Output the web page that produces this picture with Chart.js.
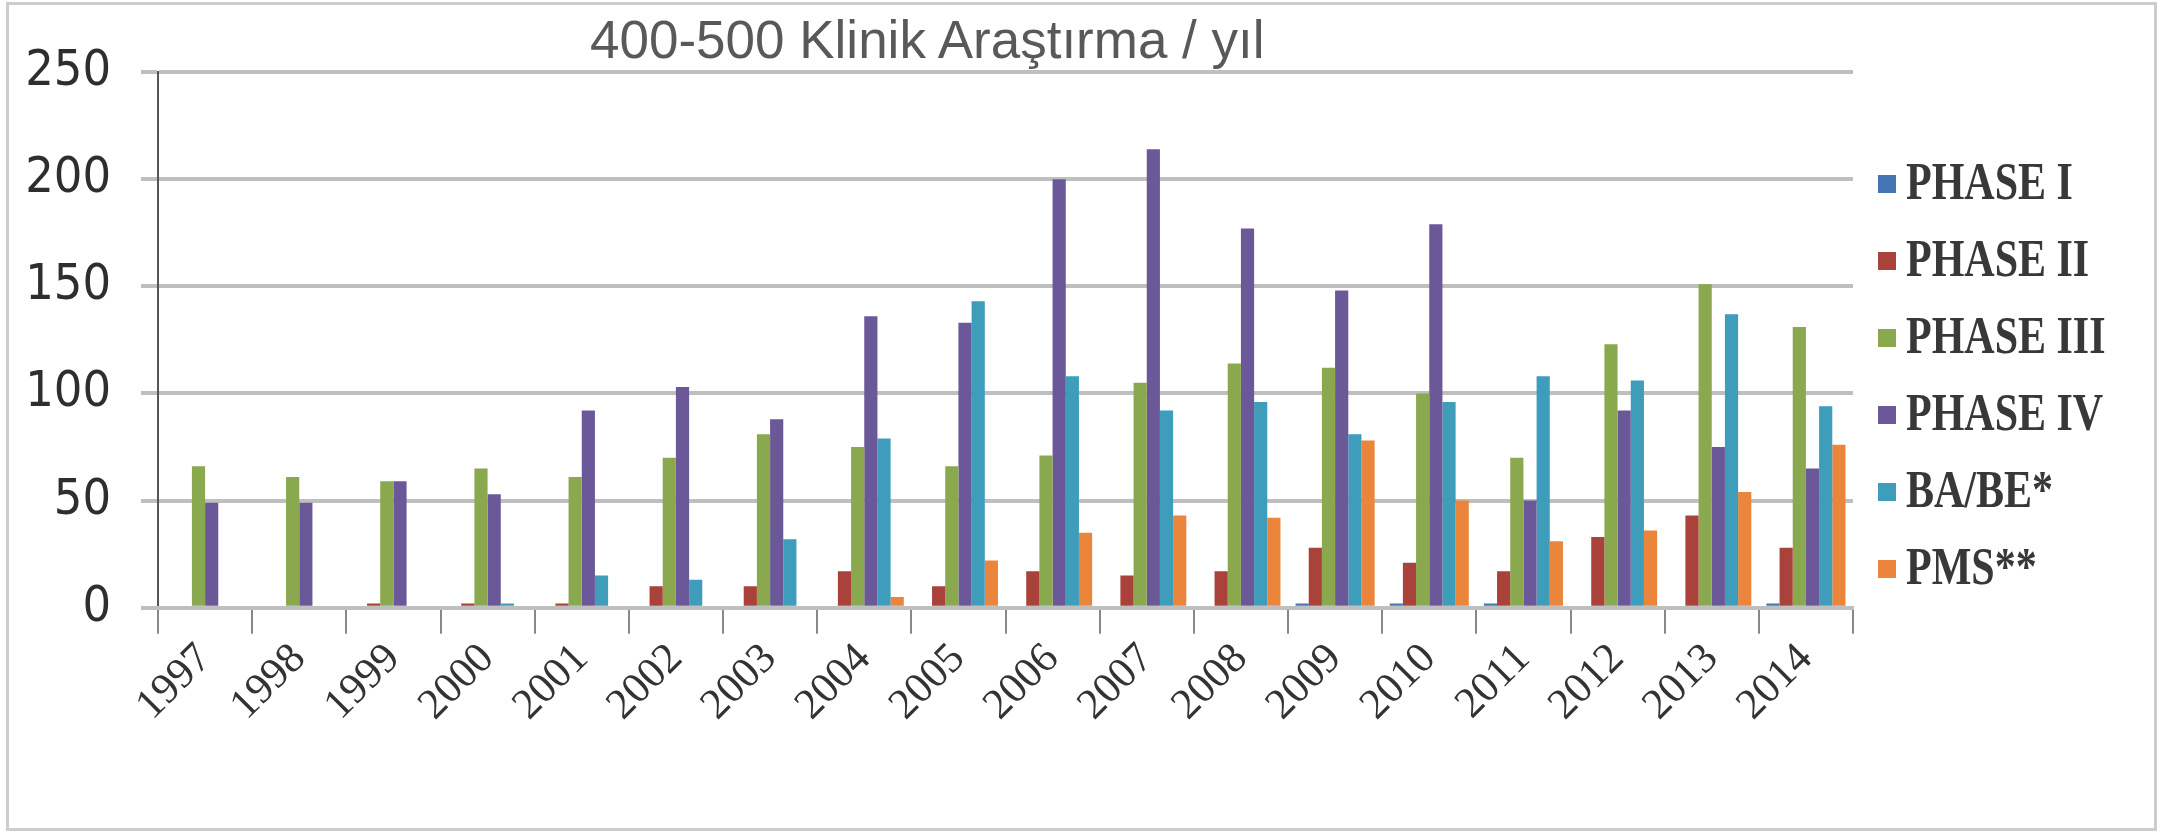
<!DOCTYPE html>
<html>
<head>
<meta charset="utf-8">
<script src="https://cdn.jsdelivr.net/npm/chart.js@4/dist/chart.umd.min.js"></script>
<style>
  body { margin: 0; background: #fff; }
  #wrap { position: relative; width: 2161px; height: 834px; }
  #frame { position: absolute; left: 6px; top: 2px; width: 2145px; height: 823px; border: 3px solid #cdcdcd; pointer-events: none; }
  #title { position: absolute; left: 590px; top: 14px; font-family: "Liberation Sans", Arial, sans-serif; font-size: 53px; line-height: 52px; color: #595959; white-space: nowrap; }
  #legend { position: absolute; left: 1878px; top: 145px; font-family: "Liberation Serif", serif; font-weight: bold; font-size: 42px; color: #383838; }
  #legend div { height: 77px; line-height: 77px; white-space: nowrap; }
  #legend span.box { display: inline-block; width: 18px; height: 18px; margin-right: 10px; vertical-align: middle; position: relative; top: -3px; }
  #legend span.txt { display: inline-block; transform: scaleY(1.25); transform-origin: 50% 55%; }
</style>
</head>
<body>
<div id="wrap">
  <canvas id="myChart"></canvas>
  <div id="title">400-500 Klinik Araştırma / yıl</div>
  <div id="legend"></div>
  <div id="frame"></div>
</div>
<script>
const years = ["1997", "1998", "1999", "2000", "2001", "2002", "2003", "2004", "2005",
  "2006", "2007", "2008", "2009", "2010", "2011", "2012", "2013", "2014"];
const seriesNames = ["PHASE I", "PHASE II", "PHASE III", "PHASE IV", "BA/BE*", "PMS**"];
const phase1 = [0, 0, 0, 0, 0, 0, 0, 0, 0, 0, 0, 0, 2, 2, 2, 0, 0, 2];
const phase2 = [0, 0, 2, 2, 2, 10, 10, 17, 10, 17, 15, 17, 28, 21, 17, 33, 43, 28];
const phase3 = [66, 61, 59, 65, 61, 70, 81, 75, 66, 71, 105, 114, 112, 100, 70, 123, 151, 131];
const phase4 = [49, 49, 59, 53, 92, 103, 88, 136, 133, 200, 214, 177, 148, 179, 50, 92, 75, 65];
const babe = [0, 0, 0, 2, 15, 13, 32, 79, 143, 108, 92, 96, 81, 96, 108, 106, 137, 94];
const pms = [0, 0, 0, 0, 0, 0, 0, 5, 22, 35, 43, 42, 78, 50, 31, 36, 54, 76];
const yTicks = [0, 50, 100, 150, 200, 250];
const colors = ["#4475b4", "#a9423a", "#8aa94f", "#6b5898", "#3d9dbb", "#eb853b"];

const seriesData = [phase1, phase2, phase3, phase4, babe, pms];

const data = {
  labels: years,
  datasets: seriesData.map((values, i) => ({
    label: seriesNames[i],
    data: values,
    backgroundColor: colors[i],
    categoryPercentage: 0.84,
    barPercentage: 1.0,
  })),
};

const config = {
  type: "bar",
  data: data,
  options: {
    responsive: true,
    maintainAspectRatio: false,
    devicePixelRatio: 1,
    animation: false,
    layout: {
      padding: { top: 72, left: 0, right: 308, bottom: 103 }
    },
    plugins: {
      legend: { display: false },
      title: { display: false },
      tooltip: { enabled: false }
    },
    scales: {
      y: {
        min: 0,
        max: 250,
        afterBuildTicks: (axis) => { axis.ticks = yTicks.map(v => ({ value: v })); },
        afterFit: (axis) => { axis.width = 158; },
        ticks: {
          padding: 30,
          color: "#2e2e2e",
          font: { family: "'DejaVu Sans Condensed', 'DejaVu Sans', sans-serif", size: 50 }
        },
        grid: { color: "#bfbfbf", lineWidth: 4, tickLength: 17 },
        border: { display: true, color: "#555", width: 2 }
      },
      x: {
        grid: {
          display: true,
          drawOnChartArea: false,
          drawTicks: true,
          tickLength: 26,
          color: "#888",
          lineWidth: 2,
          offset: true
        },
        border: { display: true, color: "#bfbfbf", width: 4 },
        ticks: {
          minRotation: 45,
          maxRotation: 45,
          padding: 0,
          color: "#333",
          font: { family: "'Liberation Serif', serif", size: 43 }
        }
      }
    }
  }
};

const myChart = new Chart(document.getElementById("myChart"), config);

// html legend built from the chart's own datasets
const legendBox = document.getElementById("legend");
myChart.data.datasets.forEach(ds => {
  const row = document.createElement("div");
  const swatch = document.createElement("span");
  swatch.className = "box";
  swatch.style.background = ds.backgroundColor;
  const txt = document.createElement("span");
  txt.className = "txt";
  txt.textContent = ds.label;
  row.appendChild(swatch);
  row.appendChild(txt);
  legendBox.appendChild(row);
});
</script>
</body>
</html>
